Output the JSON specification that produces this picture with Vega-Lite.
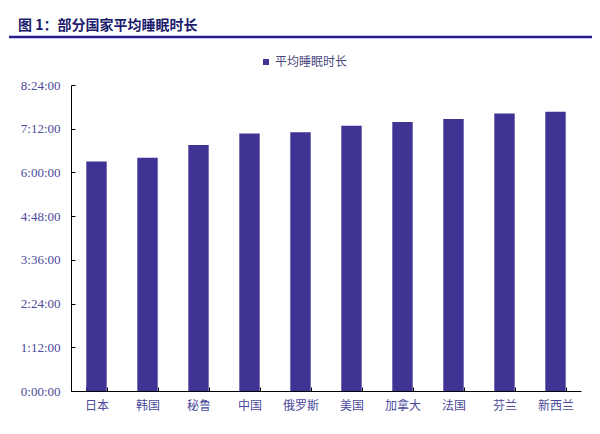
{
  "$schema": "https://vega.github.io/schema/vega-lite/v6.json",
  "padding": {"left": 7, "top": 18, "right": 10, "bottom": 10},
  "background": "white",
  "config": {"view": {"stroke": null}},
  "width": 510,
  "height": 306,
  "title": {
    "text": "图 1：部分国家平均睡眠时长",
    "anchor": "start",
    "frame": "group",
    "dx": -53,
    "fontSize": 14,
    "fontWeight": "bold",
    "font": "Noto Sans CJK SC",
    "color": "#1C1C6E",
    "offset": 3
  },
  "data": {
    "values": [
      {"country": "日本", "minutes": 378, "series": "平均睡眠时长"},
      {"country": "韩国", "minutes": 384, "series": "平均睡眠时长"},
      {"country": "秘鲁", "minutes": 405, "series": "平均睡眠时长"},
      {"country": "中国", "minutes": 424, "series": "平均睡眠时长"},
      {"country": "俄罗斯", "minutes": 426, "series": "平均睡眠时长"},
      {"country": "美国", "minutes": 437, "series": "平均睡眠时长"},
      {"country": "加拿大", "minutes": 443, "series": "平均睡眠时长"},
      {"country": "法国", "minutes": 448, "series": "平均睡眠时长"},
      {"country": "芬兰", "minutes": 457, "series": "平均睡眠时长"},
      {"country": "新西兰", "minutes": 460, "series": "平均睡眠时长"}
    ]
  },
  "resolve": {"scale": {"x": "independent"}},
  "layer": [
    {
      "mark": {"type": "bar"},
      "encoding": {
        "x": {
          "field": "country",
          "type": "nominal",
          "sort": null,
          "scale": {"paddingInner": 0.6, "paddingOuter": 0.3},
          "axis": {
            "title": null,
            "labelAngle": 0,
            "labelFont": "Noto Sans CJK SC",
            "labelFontSize": 12,
            "labelColor": "#4B4A9C",
            "labelPadding": 13,
            "domainColor": "#000000",
            "domainWidth": 1,
            "tickColor": "#000000",
            "tickSize": -4,
            "tickBand": "extent",
            "grid": false
          }
        },
        "y": {
          "field": "minutes",
          "type": "quantitative",
          "scale": {"domain": [0, 504], "nice": false},
          "axis": {
            "title": null,
            "values": [0, 72, 144, 216, 288, 360, 432, 504],
            "labelExpr": "floor(datum.value/60) + ':' + format(datum.value%60, '02d') + ':00'",
            "labelFont": "Liberation Serif",
            "labelFontSize": 13,
            "labelColor": "#4B4A9C",
            "labelPadding": 15,
            "domainColor": "#000000",
            "domainWidth": 1,
            "tickColor": "#000000",
            "tickSize": -4,
            "grid": false
          }
        },
        "color": {
          "field": "series",
          "type": "nominal",
          "scale": {"range": ["#3F3494"]},
          "legend": {
            "title": null,
            "orient": "none",
            "legendX": 189,
            "legendY": -29,
            "symbolType": "square",
            "symbolSize": 36,
            "symbolStrokeWidth": 0,
            "labelFont": "Noto Sans CJK SC",
            "labelFontSize": 12,
            "labelColor": "#4B4A80",
            "labelOffset": 3
          }
        }
      }
    },
    {
      "data": {"values": [{"k": "underline"}]},
      "mark": {"type": "rule", "color": "#241E8C", "strokeWidth": 2.5},
      "encoding": {
        "x": {"datum": -62, "type": "quantitative", "scale": {"domain": [0, 510], "nice": false, "zero": false}, "axis": null},
        "x2": {"datum": 521},
        "y": {"datum": 583}
      }
    }
  ]
}
